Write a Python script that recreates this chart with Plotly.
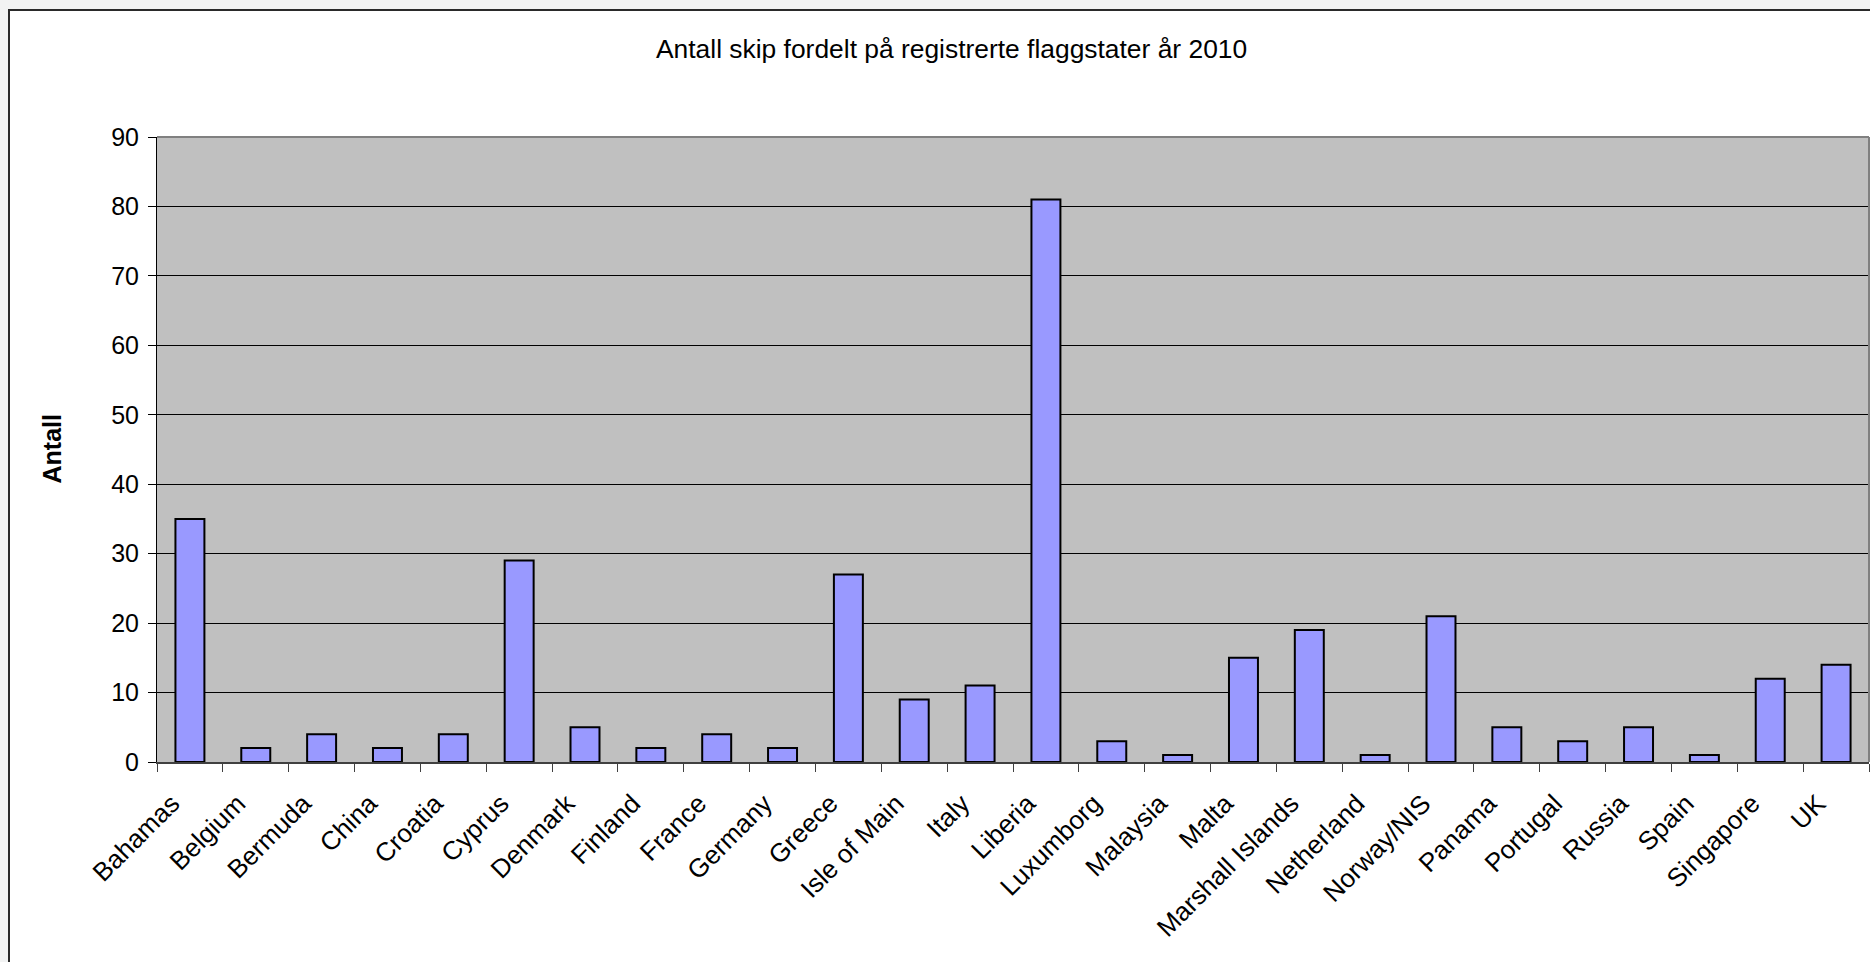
import plotly.graph_objects as go

categories = ["Bahamas", "Belgium", "Bermuda", "China", "Croatia", "Cyprus", "Denmark",
              "Finland", "France", "Germany", "Greece", "Isle of Main", "Italy", "Liberia",
              "Luxumborg", "Malaysia", "Malta", "Marshall Islands", "Netherland", "Norway/NIS",
              "Panama", "Portugal", "Russia", "Spain", "Singapore", "UK"]
antall = [35, 2, 4, 2, 4, 29, 5, 2, 4, 2, 27, 9, 11, 81, 3, 1, 15, 19, 1, 21, 5, 3, 5, 1, 12, 14]

title_text = "Antall skip fordelt på registrerte flaggstater år 2010"
y_title = "Antall"
y_ticks = [0, 10, 20, 30, 40, 50, 60, 70, 80, 90]

FONT = "Liberation Sans, Arial, sans-serif"
W, H = 1870, 962
L, R, T, B = 157, 1, 137, 200
PW, PH = W - L - R, H - T - B

fig = go.Figure()
fig.add_trace(go.Bar(
    x=categories, y=antall,
    marker=dict(color="#9999ff", line=dict(color="#000000", width=2)),
    width=0.44,
    hoverinfo="x+y",
))

fig.update_layout(
    width=W, height=H,
    margin=dict(l=L, r=R, t=T, b=B, pad=0, autoexpand=False),
    paper_bgcolor="#f2f3f3",
    plot_bgcolor="#c0c0c0",
    font=dict(family=FONT, size=25, color="#000000"),
    showlegend=False,
    bargap=0.56,
)

fig.update_yaxes(
    range=[0, 90], tickvals=y_ticks,
    showgrid=True, gridcolor="#000000", gridwidth=1,
    showline=True, linecolor="#000000", linewidth=1,
    ticks="outside", ticklen=8, tickcolor="#000000", tickwidth=1,
    ticklabelstandoff=4,
    zeroline=False,
    automargin=False,
    tickfont=dict(size=25),
)
fig.update_xaxes(
    type="category",
    tickangle=-45,
    showline=True, linecolor="#404040", linewidth=2,
    ticks="outside", ticklen=8, tickcolor="#404040", tickwidth=1,
    tickson="boundaries",
    ticklabelstandoff=14,
    ticklabelshift=-18,
    showgrid=False,
    automargin=False,
    tickfont=dict(size=26),
    range=[-0.5, len(categories) - 0.5],
)

# white chart area with dark frame
fig.add_shape(type="rect", xref="paper", yref="paper",
              x0=(9 - L) / PW, x1=(W + 20 - L) / PW,
              y0=(B - H - 20) / PH, y1=(H - 10 - B) / PH,
              fillcolor="#ffffff", line=dict(color="#2a2a2a", width=2), layer="below")
# grey plot area
fig.add_shape(type="rect", xref="paper", yref="paper", x0=0, x1=1, y0=0, y1=1,
              fillcolor="#c0c0c0", line=dict(width=0), layer="below")
# plot area border (top and right)
fig.add_shape(type="line", xref="paper", yref="paper", x0=0, x1=1, y0=1, y1=1,
              line=dict(color="#808080", width=2))
fig.add_shape(type="line", xref="paper", yref="paper", x0=1, x1=1, y0=0, y1=1,
              line=dict(color="#808080", width=2))

fig.add_annotation(text=title_text, xref="paper", yref="paper",
                   x=(951 - L) / PW, y=(H - B - 49) / PH,
                   xanchor="center", yanchor="middle", showarrow=False,
                   font=dict(size=26.4, family=FONT, color="#000000"))
fig.add_annotation(text="<b>" + y_title + "</b>", xref="paper", yref="paper",
                   x=(51 - L) / PW, y=0.5, textangle=-90,
                   xanchor="center", yanchor="middle", showarrow=False,
                   font=dict(size=25, family=FONT, color="#000000"))

fig.write_html(
    "out.html",
    config={"displayModeBar": False},
    post_script="document.body.style.margin='0';document.body.style.overflow='hidden';",
)
